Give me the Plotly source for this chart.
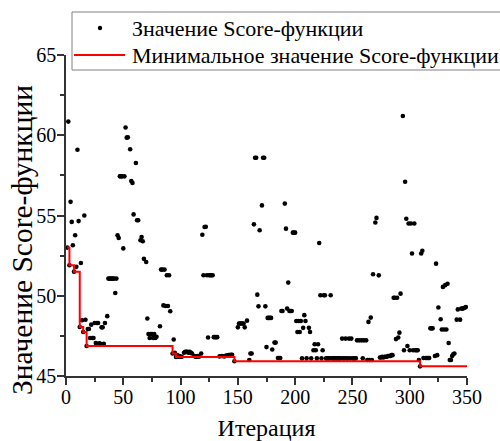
import plotly.graph_objects as go

# Score value obtained at each iteration of the search
iterations = [
    1, 2, 3, 4, 5, 6, 7, 8, 9, 10,
    11, 12, 13, 14, 15, 16, 17, 18, 19, 20,
    21, 22, 23, 24, 25, 26, 27, 28, 29, 30,
    31, 32, 33, 34, 36, 37, 38, 39, 40, 41,
    42, 43, 44, 45, 46, 47, 48, 49, 50, 51,
    52, 53, 54, 56, 57, 58, 59, 61, 62, 63,
    65, 66, 67, 68, 70, 71, 72, 73, 74, 75,
    76, 77, 78, 79, 82, 83, 84, 85, 86, 87,
    88, 89, 90, 91, 93, 94, 95, 96, 97, 98,
    99, 100, 101, 103, 104, 105, 106, 107, 108, 109,
    110, 112, 113, 114, 115, 116, 118, 119, 120, 121,
    122, 123, 124, 125, 126, 127, 128, 129, 130, 131,
    132, 134, 136, 138, 139, 140, 141, 142, 143, 144,
    145, 147, 150, 151, 152, 153, 154, 155, 156, 158,
    160, 161, 162, 164, 165, 166, 167, 168, 169, 171,
    172, 173, 174, 175, 176, 177, 178, 179, 180, 182,
    183, 185, 186, 187, 188, 189, 191, 192, 193, 194,
    195, 196, 197, 198, 199, 200, 201, 202, 203, 204,
    205, 206, 207, 208, 209, 210, 212, 213, 214, 216,
    217, 218, 219, 220, 221, 222, 223, 224, 225, 226,
    227, 228, 229, 230, 231, 232, 233, 234, 235, 236,
    237, 238, 239, 240, 241, 242, 243, 244, 245, 246,
    247, 248, 249, 250, 251, 252, 253, 254, 256, 258,
    259, 260, 262, 263, 264, 265, 266, 267, 268, 270,
    271, 273, 274, 275, 276, 277, 278, 279, 280, 281,
    282, 283, 284, 285, 286, 287, 288, 289, 290, 291,
    292, 294, 295, 296, 297, 298, 299, 300, 301, 302,
    303, 304, 305, 306, 307, 308, 309, 310, 311, 312,
    314, 315, 316, 317, 318, 319, 320, 322, 323, 324,
    325, 327, 328, 329, 330, 331, 332, 333, 334, 335,
    336, 337, 338, 339, 341, 342, 344, 345, 346, 347,
    348, 349,
]
scores = [
    53.0, 60.85, 51.9, 55.85, 54.6, 53.15, 51.5, 53.77, 51.8, 59.1,
    54.65, 48.05, 52.04, 48.47, 47.74, 55.0, 48.5, 46.87, 47.93, 47.93,
    47.37, 48.2, 47.37, 47.37, 48.3, 47.05, 48.3, 48.3, 47.03, 47.0,
    48.03, 48.03, 47.0, 48.3, 48.73, 51.07, 51.07, 51.07, 51.07, 51.07,
    51.07, 50.17, 51.07, 53.77, 53.6, 57.44, 57.44, 57.44, 52.95, 57.44,
    60.48, 59.85, 59.87, 59.13, 57.15, 57.03, 55.07, 58.27, 54.7, 54.7,
    53.46, 53.66, 53.4, 52.3, 52.1, 48.58, 47.62, 47.37, 47.62, 47.62,
    47.37, 47.62, 47.37, 47.45, 48.1, 51.63, 51.63, 49.4, 51.63, 49.36,
    51.28, 49.36, 51.28, 49.03, 46.4, 47.27, 46.45, 46.18, 46.3, 46.2,
    46.25, 46.2, 46.2, 46.45, 46.5, 46.5, 46.5, 46.45, 46.5, 46.45,
    46.4, 46.25, 46.2, 46.2, 46.25, 46.2, 46.4, 53.8, 51.28, 54.28,
    54.3, 51.28, 47.4, 51.28, 51.28, 51.28, 51.28, 47.42, 47.42, 47.42,
    47.42, 46.22, 46.25, 46.22, 46.25, 46.28, 46.28, 46.3, 46.3, 46.32,
    46.32, 45.92, 48.03, 48.27, 48.27, 48.27, 48.27, 48.27, 48.03, 48.45,
    46.0, 46.4, 46.4, 54.45, 58.6, 58.6, 50.07, 49.34, 54.08, 55.63,
    58.6, 58.6, 49.34, 46.8, 48.62, 48.62, 48.62, 48.62, 46.65, 47.08,
    47.08, 46.12, 46.12, 46.12, 49.05, 49.05, 55.74, 54.18, 49.2, 50.82,
    49.05, 49.05, 49.05, 53.93, 53.93, 53.93, 48.43, 47.74, 48.43, 47.74,
    48.43, 46.1, 48.0, 48.79, 48.43, 46.1, 48.0, 47.74, 46.1, 46.6,
    46.98, 46.6, 46.1, 46.98, 53.29, 50.03, 46.1, 46.6, 50.03, 50.03,
    46.1, 46.1, 46.1, 46.1, 50.03, 46.1, 46.1, 46.1, 46.1, 46.1,
    46.1, 46.1, 46.1, 46.1, 47.33, 46.1, 46.1, 47.33, 46.1, 46.1,
    47.33, 46.1, 47.33, 46.1, 46.1, 46.1, 46.1, 47.22, 47.22, 47.22,
    46.1, 47.22, 47.22, 46.0, 48.37, 46.0, 48.64, 46.0, 51.34, 54.56,
    54.85, 51.27, 46.15, 46.15, 46.2, 46.15, 46.2, 46.2, 46.2, 46.25,
    46.25, 46.25, 46.3, 46.3, 49.88, 49.88, 47.3, 49.88, 47.4, 47.7,
    50.13, 61.2, 46.6, 57.1, 54.8, 46.87, 54.5, 46.6, 54.5, 52.63,
    46.6, 54.5, 46.6, 46.6, 46.6, 46.0, 45.6, 52.63, 52.8, 46.12,
    46.12, 46.12, 46.12, 46.12, 47.97, 47.97, 47.97, 46.25, 52.0, 46.3,
    49.27, 48.54, 47.9, 50.55, 47.9, 50.66, 47.9, 50.75, 47.06, 46.0,
    46.0, 46.25, 46.35, 46.4, 48.51, 49.15, 48.51, 49.2, 49.2, 49.22,
    49.25, 49.3,
]

# Best score found so far: iterations where a new minimum appears
min_iterations = [1, 3, 7, 12, 15, 18, 93, 96, 147, 309, 350]
min_scores = [53.0, 51.9, 51.5, 48.05, 47.74, 46.87, 46.4, 46.18, 45.92, 45.6, 45.6]

x_ticks = [0, 50, 100, 150, 200, 250, 300, 350]
y_ticks = [45, 50, 55, 60, 65]

series_names = ["Значение Score-функции", "Минимальное значение Score-функции"]
x_title = "Итерация"
y_title = "Значение Score-функции"

SERIF = "Liberation Serif, Times New Roman, serif"
AXIS_COLOR = "#333333"
DOT_COLOR = "black"
MIN_COLOR = "#ff0000"

fig = go.Figure()
fig.add_trace(go.Scatter(
    x=iterations, y=scores, mode="markers",
    name=series_names[0],
    marker=dict(color=DOT_COLOR, size=4.6),
    cliponaxis=False, showlegend=False,
))
fig.add_trace(go.Scatter(
    x=min_iterations, y=min_scores, mode="lines",
    name=series_names[1],
    line=dict(color=MIN_COLOR, width=2, shape="hv"),
    showlegend=False,
))

axis_common = dict(
    showline=True, linecolor=AXIS_COLOR, linewidth=1.5,
    ticks="outside", ticklen=7, tickwidth=1.5, tickcolor=AXIS_COLOR,
    showgrid=False, zeroline=False, mirror=False,
    tickfont=dict(family=SERIF, size=20, color="black"),
)

fig.update_xaxes(
    range=[0, 350], tickvals=x_ticks, ticklabelstandoff=-5,
    minor=dict(ticks="outside", ticklen=4, tickwidth=1.5, tickcolor=AXIS_COLOR, dtick=25, tick0=0),
    title=dict(text=x_title, font=dict(family=SERIF, size=24, color="black"), standoff=14),
    **axis_common,
)
fig.update_yaxes(
    range=[45, 65], tickvals=y_ticks, ticklabelstandoff=-3,
    minor=dict(ticks="outside", ticklen=4, tickwidth=1.5, tickcolor=AXIS_COLOR, dtick=2.5, tick0=45),
    **axis_common,
)

# Layout helpers: convert figure pixels to paper coordinates of the plot area
plot_w, plot_h = 401, 321
def px_x(px):
    return (px - 66) / plot_w
def px_y(py):
    return (376 - py) / plot_h

# Legend box drawn in paper coordinates; it runs past the right edge of the figure
legend_shapes = [
    dict(type="rect", xref="paper", yref="paper",
         x0=px_x(72), x1=px_x(515), y0=px_y(70), y1=px_y(12),
         line=dict(color="#808080", width=1), fillcolor="white", layer="above"),
    dict(type="line", xref="paper", yref="paper",
         x0=px_x(74), x1=px_x(125), y0=px_y(55), y1=px_y(55),
         line=dict(color=MIN_COLOR, width=2), layer="above"),
    dict(type="circle", xref="paper", yref="paper",
         xsizemode="pixel", ysizemode="pixel",
         xanchor=px_x(100), yanchor=px_y(28),
         x0=-2.2, x1=2.2, y0=-2.2, y1=2.2,
         line=dict(width=0), fillcolor=DOT_COLOR, layer="above"),
]
legend_labels = [
    dict(x=px_x(130), y=px_y(28), text=series_names[0]),
    dict(x=px_x(130), y=px_y(55), text=series_names[1]),
]
annotations = [
    dict(xref="paper", yref="paper", xanchor="left", yanchor="middle",
         showarrow=False, font=dict(family=SERIF, size=22, color="black"), **lab)
    for lab in legend_labels
]
# Vertical axis title, centred a little below the middle of the axis
annotations.append(dict(
    xref="paper", yref="paper", x=px_x(22), y=px_y(240),
    xanchor="center", yanchor="middle", textangle=-90, showarrow=False,
    text=y_title, font=dict(family=SERIF, size=29.5, color="black"),
))

fig.update_layout(
    width=500, height=441,
    margin=dict(l=66, r=33, t=55, b=65, autoexpand=False),
    plot_bgcolor="white", paper_bgcolor="white",
    font=dict(family=SERIF, color="black"),
    showlegend=False,
    shapes=legend_shapes,
    annotations=annotations,
)

fig.write_html("out.html")
